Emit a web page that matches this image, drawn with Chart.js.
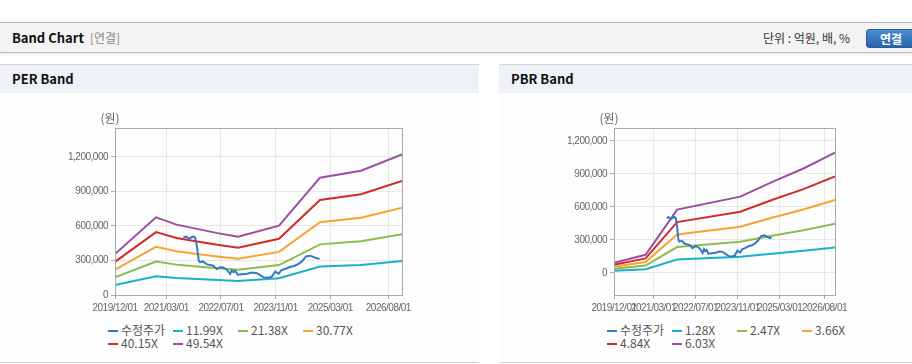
<!DOCTYPE html>
<html>
<head>
<meta charset="utf-8">
<script src="https://cdn.jsdelivr.net/npm/chart.js@4.4.1/dist/chart.umd.min.js"></script>
<style>
    body { margin: 0; width: 912px; height: 364px; position: relative; overflow: hidden; background: #fff;
           font-family: "Noto Sans CJK KR", "Noto Sans", sans-serif; }
    .hdr { position: absolute; left: 0; top: 22px; width: 912px; height: 31px; box-sizing: border-box;
           background: #f3f3f3; border-top: 1px solid #b5b5b5; border-bottom: 1px solid #bdbdbd;
           box-shadow: 0 1px 3px rgba(0,0,0,0.12); }
    .hdr .title { position: absolute; left: 12px; top: 7px; font-size: 13px; font-weight: bold; color: #111; line-height: 16px; }
    .hdr .sub { font-weight: normal; color: #888; font-size: 12px; margin-left: 6px; }
    .hdr .unit { position: absolute; right: 62px; top: 7px; font-size: 12px; color: #333; line-height: 16px; }
    .hdr .btn { position: absolute; left: 866px; top: 6px; width: 56px; height: 19px; border-radius: 3px;
                background: linear-gradient(#4b8bd3, #2a64ad); border: 1px solid #2a5c9c; box-sizing: border-box;
                color: #fff; font-size: 12px; font-weight: bold; line-height: 17px; padding-left: 13px; }
    .panel { position: absolute; top: 64px; height: 299px; box-sizing: border-box; background: #fdfdfd;
             border-top: 1px solid #d6d6d6; border-bottom: 1px solid #cfcfcf; }
    .panel .ph { height: 28px; background: #eef1f6; font-size: 13px; font-weight: bold; color: #111;
                 line-height: 28px; padding-left: 12px; }
    canvas { position: absolute; top: 93px; }
    .legend { position: absolute; top: 323px; width: 270px; font-family: "Noto Sans CJK KR", sans-serif;
              font-size: 12px; color: #555; line-height: 13px; }
    .legend span.item { display: inline-block; width: 65px; white-space: nowrap; }
    .legend i { display: inline-block; width: 10px; height: 2px; vertical-align: middle; margin-right: 3px; position: relative; top: -1px; }
</style>
</head>
<body>
<div class="hdr">
    <div class="title">Band Chart<span class="sub">[연결]</span></div>
    <div class="unit">단위 : 억원, 배, %</div>
    <div class="btn">연결</div>
</div>
<div class="panel" style="left:0; width:479px;"><div class="ph">PER Band</div></div>
<div class="panel" style="left:499px; width:413px;"><div class="ph">PBR Band</div></div>
<canvas id="chart-per" width="479" height="225" style="left:0;"></canvas>
<canvas id="chart-pbr" width="413" height="225" style="left:499px;"></canvas>
<div class="legend" id="legend-per" style="left:108px;"></div>
<div class="legend" id="legend-pbr" style="left:607px;"></div>
<script>
// months counted from 2019/12
var tickMonths = [0, 15, 31, 47, 63, 80];
var tickLabels = ["2019/12/01", "2021/03/01", "2022/07/01", "2023/11/01", "2025/03/01", "2026/08/01"];
var yTickValues = [0, 300000, 600000, 900000, 1200000];

// 수정주가 (same price series on both charts)
var priceMonths = [20.0, 20.8, 21.6, 22.3, 23.0, 23.5, 24.0, 24.5, 24.8, 25.8, 26.8, 27.8, 28.8, 29.8, 30.8, 31.7,
    32.7, 33.7, 34.2, 34.7, 35.2, 35.9, 37.2, 38.6, 40.1, 41.5, 42.5, 43.7, 45.0, 45.9, 46.9, 47.9, 48.8, 49.8,
    51.3, 52.2, 53.4, 54.7, 55.9, 57.1, 58.0, 59.0, 59.9];
var priceValues = [500000, 508000, 490000, 500000, 510000, 495000, 420000, 300000, 285000, 292000, 268000, 260000,
    255000, 225000, 242000, 240000, 220000, 182000, 218000, 198000, 210000, 176000, 180000, 184000, 195000, 190000,
    172000, 152000, 150000, 160000, 204000, 185000, 218000, 226000, 245000, 250000, 265000, 292000, 335000, 342000,
    332000, 320000, 315000];

// PER band
var perMonths = [0, 12, 18, 24, 30, 36, 48, 60, 72, 84];
var per1199 = [86200, 163400, 148100, 139200, 130200, 122700, 145900, 246800, 261600, 296000];
var per2138 = [153600, 291300, 264100, 248200, 232200, 218800, 260300, 440200, 466500, 527800];
var per3077 = [221100, 419200, 380100, 357100, 334200, 314900, 374500, 633500, 671400, 759600];
var per4015 = [288500, 547100, 496000, 466000, 436100, 410900, 488700, 826700, 876200, 991200];
var per4954 = [356000, 675000, 612000, 575000, 538000, 507000, 603000, 1020000, 1081000, 1223000];

// PBR band
var pbrMonths = [0, 12, 24, 48, 60, 72, 84];
var pbr128 = [20000, 35000, 122300, 147300, 175400, 201700, 232300];
var pbr247 = [38500, 67600, 235900, 284300, 338300, 389100, 448100];
var pbr366 = [57100, 100200, 349600, 421300, 501400, 576700, 664100];
var pbr484 = [75500, 132400, 462400, 557100, 663000, 762600, 878100];
var pbr603 = [94000, 165000, 576000, 694000, 826000, 950000, 1094000];

var colors = ["#3478c8", "#19b2c5", "#8dbb50", "#f5a431", "#d42a2a", "#9a4ea1"];

function pts(xs, ys) {
    return xs.map(function (x, i) { return { x: x, y: ys[i] }; });
}

function line(label, data, color) {
    return { label: label, data: data, borderColor: color, backgroundColor: color,
             borderWidth: 2, pointRadius: 0, tension: 0, fill: false };
}

var tickFont = { size: 10, family: "'Liberation Sans', sans-serif" };

var framePlugin = {
    id: "frame",
    beforeInit: function (chart) {
        chart.ctx.letterSpacing = "-0.5px"; // tighter tick text, closer to the original narrow font
    },
    beforeDraw: function (chart) {
        chart.ctx.letterSpacing = "-0.5px";
    },
    afterDraw: function (chart) {
        var c = chart.ctx, a = chart.chartArea;
        c.save();
        c.letterSpacing = "0px";
        c.strokeStyle = "#aaa";
        c.lineWidth = 1;
        c.strokeRect(Math.round(a.left) + 0.5, Math.round(a.top) + 0.5, Math.round(a.right - a.left), Math.round(a.bottom - a.top));
        c.fillStyle = "#666";
        c.font = "12px 'Noto Sans CJK KR'";
        c.textAlign = "center";
        c.textBaseline = "middle";
        c.fillText("(원)", a.left - 5, a.top - 10);
        c.restore();
    }
};

function makeChart(id, datasets, yMin, yMax) {
    var ctx = document.getElementById(id).getContext("2d");
    return new Chart(ctx, {
        type: "line",
        data: { datasets: datasets },
        plugins: [framePlugin],
        options: {
            responsive: false,
            animation: false,
            layout: { padding: { left: 0, right: 77, top: 35, bottom: 3 } },
            plugins: { legend: { display: false }, tooltip: { enabled: false } },
            scales: {
                x: {
                    type: "linear",
                    min: 0,
                    max: 84,
                    afterBuildTicks: function (s) { s.ticks = tickMonths.map(function (v) { return { value: v }; }); },
                    afterFit: function (s) { s.height = 20; },
                    grid: { color: "#e6e6e6", tickColor: "#aaa", tickLength: 4 },
                    border: { color: "#aaa" },
                    ticks: {
                        autoSkip: false,
                        maxRotation: 0,
                        padding: 3,
                        font: tickFont,
                        color: "#666",
                        callback: function (v) { return tickLabels[tickMonths.indexOf(v)]; }
                    }
                },
                y: {
                    min: yMin,
                    max: yMax,
                    afterBuildTicks: function (s) { s.ticks = yTickValues.map(function (v) { return { value: v }; }); },
                    afterFit: function (s) { s.width = 115; },
                    grid: { color: "#e6e6e6", tickColor: "#aaa", tickLength: 4 },
                    border: { color: "#aaa" },
                    ticks: {
                        padding: 3,
                        font: tickFont,
                        color: "#666",
                        callback: function (v) { return v.toLocaleString("en-US"); }
                    }
                }
            }
        }
    });
}

var perChart = makeChart("chart-per", [
    line("수정주가", pts(priceMonths, priceValues), colors[0]),
    line("11.99X", pts(perMonths, per1199), colors[1]),
    line("21.38X", pts(perMonths, per2138), colors[2]),
    line("30.77X", pts(perMonths, per3077), colors[3]),
    line("40.15X", pts(perMonths, per4015), colors[4]),
    line("49.54X", pts(perMonths, per4954), colors[5])
], 0, 1452000);

var pbrChart = makeChart("chart-pbr", [
    line("수정주가", pts(priceMonths, priceValues), colors[0]),
    line("1.28X", pts(pbrMonths, pbr128), colors[1]),
    line("2.47X", pts(pbrMonths, pbr247), colors[2]),
    line("3.66X", pts(pbrMonths, pbr366), colors[3]),
    line("4.84X", pts(pbrMonths, pbr484), colors[4]),
    line("6.03X", pts(pbrMonths, pbr603), colors[5])
], -200000, 1318000);

function buildLegend(chart, elId) {
    var html = chart.data.datasets.map(function (ds, i) {
        return '<span class="item"><i style="background:' + ds.borderColor + '"></i>' + ds.label + '</span>' + (i === 3 ? '<br>' : '');
    }).join("");
    document.getElementById(elId).innerHTML = html;
}
buildLegend(perChart, "legend-per");
buildLegend(pbrChart, "legend-pbr");
</script>
</body>
</html>
